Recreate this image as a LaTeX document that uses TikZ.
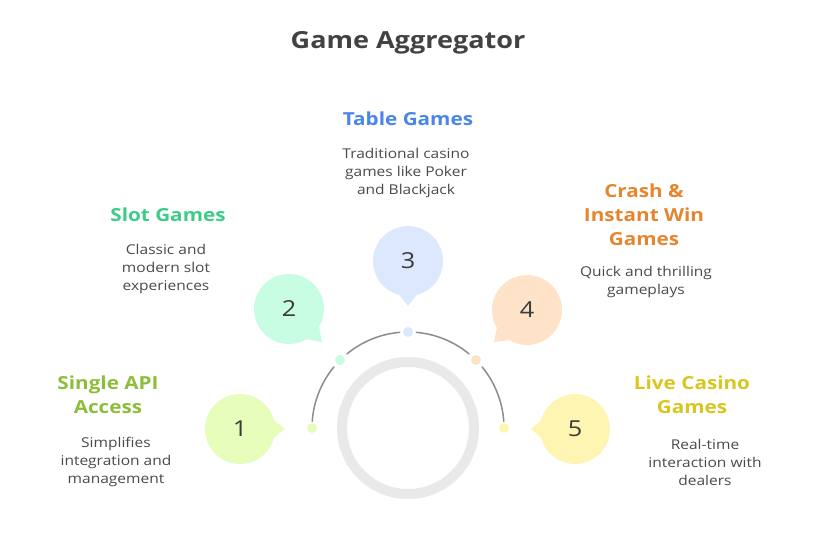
\documentclass[tikz,border=0pt]{standalone}
\usepackage{fontspec}
\setmainfont{Open Sans}[FakeStretch=1.15]
\usetikzlibrary{calc}
\definecolor{titlec}{HTML}{424242}
\definecolor{descc}{HTML}{4A4A4A}
\definecolor{numc}{HTML}{3A3A3A}
\definecolor{arcc}{HTML}{8C8C8C}
\definecolor{ringc}{HTML}{E9E9E9}
\definecolor{fa}{HTML}{E6FDBB}
\definecolor{fb}{HTML}{C8FCE3}
\definecolor{fc}{HTML}{DCE8FD}
\definecolor{fd}{HTML}{FEE3C9}
\definecolor{fe}{HTML}{FEF5B3}
\definecolor{ha}{HTML}{8DBE3B}
\definecolor{hb}{HTML}{3DCB88}
\definecolor{hc}{HTML}{4A86E8}
\definecolor{hd}{HTML}{E5862F}
\definecolor{he}{HTML}{D9C61C}
\begin{document}
\begin{tikzpicture}[x=1pt,y=-1pt,
  bubble/.style={circle,minimum size=70pt,inner sep=0pt,text=numc,font=\fontsize{22}{22}\selectfont},
  dotn/.style={circle,minimum size=10pt,inner sep=0pt},
  headt/.style={align=center,font=\bfseries\fontsize{18}{24}\selectfont},
  desct/.style={align=center,text=descc,font=\fontsize{13.5}{18}\selectfont},
  arcl/.style={draw=arcc,line width=1.5pt,line cap=round}]
\useasboundingbox (0,0) rectangle (816,540);
\node[text=titlec,font=\bfseries\fontsize{23.5}{26}\selectfont] (title) at (408,43) {Game Aggregator};

% ring and arc
\coordinate (c) at (408,428);
\node[circle,draw=ringc,line width=10pt,minimum size=132pt,inner sep=0pt] (ring) at (c) {};
\draw[arcl] plot[domain=184:219.5,samples=30] ({408+96*cos(\x)},{428+96*sin(\x)});
\draw[arcl] plot[domain=230.5:265,samples=30] ({408+96*cos(\x)},{428+96*sin(\x)});
\draw[arcl] plot[domain=275:309.5,samples=30] ({408+96*cos(\x)},{428+96*sin(\x)});
\draw[arcl] plot[domain=320.5:356,samples=30] ({408+96*cos(\x)},{428+96*sin(\x)});

% dots
\node[dotn,fill=fa] (d1) at (312,428) {};
\node[dotn,fill=fb] (d2) at (340,360) {};
\node[dotn,fill=fc] (d3) at (408,332) {};
\node[dotn,fill=fd] (d4) at (476,360) {};
\node[dotn,fill=fe] (d5) at (504,428) {};

% bubbles
\node[bubble,fill=fa] (n1) at (240,429) {1};
\node[bubble,fill=fb] (n2) at (289,309) {2};
\node[bubble,fill=fc] (n3) at (408,261) {3};
\node[bubble,fill=fd] (n4) at (527,310) {4};
\node[bubble,fill=fe] (n5) at (575,429) {5};
\coordinate (t1) at (285,429);
\coordinate (t2) at (322,342);
\coordinate (t3) at (408,306);
\coordinate (t4) at (494,342);
\coordinate (t5) at (531,429);
\fill[fa] (n1.14) -- (t1) -- (n1.-14) -- cycle;
\fill[fb] (n2.-31) -- (t2) -- (n2.-59) -- cycle;
\fill[fc] (n3.-76) -- (t3) -- (n3.-104) -- cycle;
\fill[fd] (n4.-121) -- (t4) -- (n4.-149) -- cycle;
\fill[fe] (n5.166) -- (t5) -- (n5.194) -- cycle;

% texts
\node[headt,text=ha] (h1) at (108,395) {Single API\\Access};
\node[desct] (e1) at (116,462) {Simplifies\\integration and\\management};
\node[headt,text=hb] (h2) at (168,215) {Slot Games};
\node[desct] (e2) at (166,269) {Classic and\\modern slot\\experiences};
\node[headt,text=hc] (h3) at (408,119) {Table Games};
\node[desct] (e3) at (406,173) {Traditional casino\\games like Poker\\and Blackjack};
\node[headt,text=hd] (h4) at (644,215) {Crash \&\\Instant Win\\Games};
\node[desct] (e4) at (646,282) {Quick and thrilling\\gameplays};
\node[headt,text=he] (h5) at (692,395) {Live Casino\\Games};
\node[desct] (e5) at (705,462) {Real-time\\interaction with\\dealers};
\end{tikzpicture}
\end{document}
